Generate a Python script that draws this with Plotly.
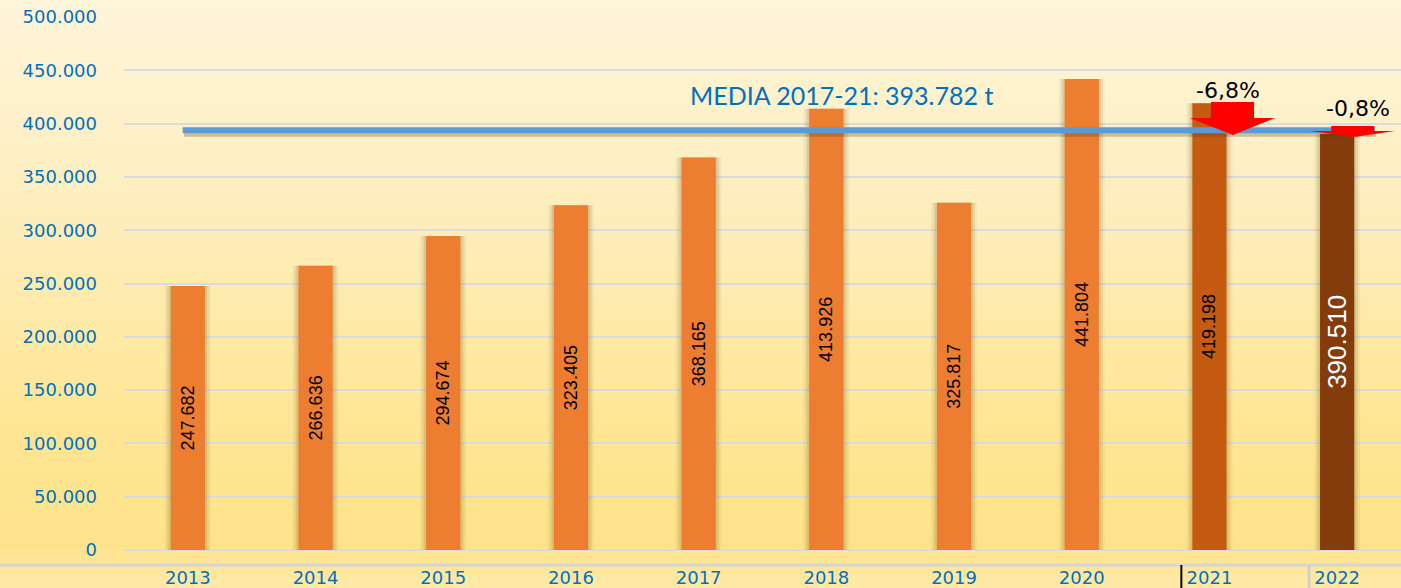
import plotly.graph_objects as go

# ---------------- data ----------------
years = [2013, 2014, 2015, 2016, 2017, 2018, 2019, 2020, 2021, 2022]
tonnes = [247682, 266636, 294674, 323405, 368165, 413926, 325817, 441804, 419198, 390510]
bar_colors = ["#ED7D31"] * 8 + ["#C55A11", "#843C0C"]
label_colors = ["#000000"] * 9 + ["#FFFFFF"]
label_sizes = [18] * 9 + [26]
mean_value = 393782
mean_label = "MEDIA 2017-21: 393.782 t"
change_years = [2021, 2022]
change_labels = ["-6,8%", "-0,8%"]
y_ticks = list(range(0, 500001, 50000))

# ---------------- figure ----------------
W, H = 1401, 588
ML, MR, MT, MB = 124, 0, 17, 38
plot_w = W - ML - MR
plot_h = H - MT - MB

fig = go.Figure()

# soft shadows behind bars
for wdt, alpha in [(0.36, 0.06), (0.33, 0.09), (0.30, 0.12)]:
    fig.add_trace(go.Bar(
        x=years, y=tonnes, width=wdt,
        marker=dict(color=f"rgba(110,80,20,{alpha})", line=dict(width=0)),
        hoverinfo="skip", showlegend=False,
    ))

fig.add_trace(go.Bar(
    x=years, y=tonnes, width=0.268,
    marker=dict(color=bar_colors, line=dict(width=0)),
    texttemplate="%{y:,.0f}",
    textposition="inside", insidetextanchor="middle", textangle=-90,
    constraintext="none",
    textfont=dict(family="Liberation Sans, Arial, sans-serif", size=label_sizes, color=label_colors),
    showlegend=False,
))

shapes = []

# background gradient (bands)
stops = [(0.0, (255, 245, 218)), (0.35, (254, 238, 190)), (0.75, (255, 229, 146)),
         (0.93, (255, 227, 140)), (1.0, (255, 234, 168))]
def col_at(t):
    for (t0, c0), (t1, c1) in zip(stops[:-1], stops[1:]):
        if t0 <= t <= t1:
            f = (t - t0) / (t1 - t0) if t1 > t0 else 0
            return tuple(round(a + (b - a) * f) for a, b in zip(c0, c1))
    return stops[-1][1]

x_left = -ML / plot_w
y_top = 1 + MT / plot_h
y_bot = -MB / plot_h
n = 60
for i in range(n):
    ya = y_top - (y_top - y_bot) * i / n
    yb = y_top - (y_top - y_bot) * (i + 1) / n
    c = col_at((i + 0.5) / n)
    shapes.append(dict(type="rect", xref="paper", yref="paper", x0=x_left, x1=1,
                       y0=yb, y1=ya + 0.001, fillcolor=f"rgb{c}", line=dict(width=0),
                       layer="below"))

# axis-table line and separators under the plot
y_sep = -15 / plot_h
shapes.append(dict(type="line", xref="paper", yref="paper", x0=x_left, x1=1,
                   y0=y_sep, y1=y_sep, line=dict(color="#D6D6D6", width=3), layer="below"))
for xs, colr in [(2020.78, "#000000"), (2021.78, "#D0D0D0")]:
    shapes.append(dict(type="line", xref="x", yref="paper", x0=xs, x1=xs,
                       y0=y_sep, y1=y_bot, line=dict(color=colr, width=2 if colr == "#000000" else 3)))

# mean line with shadow
mx0, mx1 = years[0] - 0.04, years[-1] + 0.296
shapes.append(dict(type="line", xref="x", yref="y", x0=mx0 + 0.01, x1=mx1 + 0.01,
                   y0=mean_value - 3200, y1=mean_value - 3200,
                   line=dict(color="rgba(90,60,10,0.28)", width=6)))
shapes.append(dict(type="line", xref="x", yref="y", x0=mx0, x1=mx1,
                   y0=mean_value, y1=mean_value,
                   line=dict(color="#5B9BD5", width=6)))

# red down arrows (body + head)
arrows = [
    dict(bx0=2021.012, bx1=2021.349, top=420300, base=405300,
         hx0=2020.847, hx1=2021.513, tipx=2021.184, tip=389300),
    dict(bx0=2021.953, bx1=2022.290, top=397800, base=393100,
         hx0=2021.788, hx1=2022.454, tipx=2022.132, tip=387400),
]
for a in arrows:
    path = (f"M {a['bx0']},{a['top']} L {a['bx1']},{a['top']} L {a['bx1']},{a['base']} "
            f"L {a['hx1']},{a['base']} L {a['tipx']},{a['tip']} L {a['hx0']},{a['base']} "
            f"L {a['bx0']},{a['base']} Z")
    shapes.append(dict(type="path", xref="x", yref="y", path=path,
                       fillcolor="#FF0000", line=dict(width=0)))

annotations = [
    dict(x=2018.12, y=426800, xref="x", yref="y", text=mean_label, showarrow=False,
         font=dict(family="Lato", size=25, color="#0070C0")),
    dict(x=2021.145, y=431500, xref="x", yref="y", text=change_labels[0], showarrow=False,
         font=dict(family="DejaVu Sans", size=22, color="#000000")),
    dict(x=2022.163, y=414600, xref="x", yref="y", text=change_labels[1], showarrow=False,
         font=dict(family="DejaVu Sans", size=22, color="#000000")),
]

fig.update_layout(
    width=W, height=H,
    margin=dict(l=ML, r=MR, t=MT, b=MB, pad=0, autoexpand=False),
    barmode="overlay",
    paper_bgcolor="#FFEAA8",
    plot_bgcolor="rgba(0,0,0,0)",
    separators=",.",
    shapes=shapes,
    annotations=annotations,
    showlegend=False,
    xaxis=dict(
        range=[years[0] - 0.5, years[-1] + 0.5],
        tickmode="array", tickvals=years, ticktext=[str(y) for y in years],
        showgrid=False, zeroline=False, showline=False, automargin=False,
        ticks="outside", ticklen=11, tickcolor="rgba(0,0,0,0)",
        tickfont=dict(family="DejaVu Sans", size=18, color="#0070C0"),
    ),
    yaxis=dict(
        range=[0, 500000],
        tickmode="array", tickvals=y_ticks,
        tickformat=",d", automargin=False,
        showgrid=True, gridcolor="#D8DBE0", gridwidth=2,
        zeroline=True, zerolinecolor="#D8DBE0", zerolinewidth=2,
        showline=False, ticks="", ticklabelstandoff=26,
        tickfont=dict(family="DejaVu Sans", size=18, color="#0070C0"),
    ),
)

fig.write_html("out.html", config={"displayModeBar": False},
               post_script="document.body.style.margin='0';document.body.style.overflow='hidden';")
